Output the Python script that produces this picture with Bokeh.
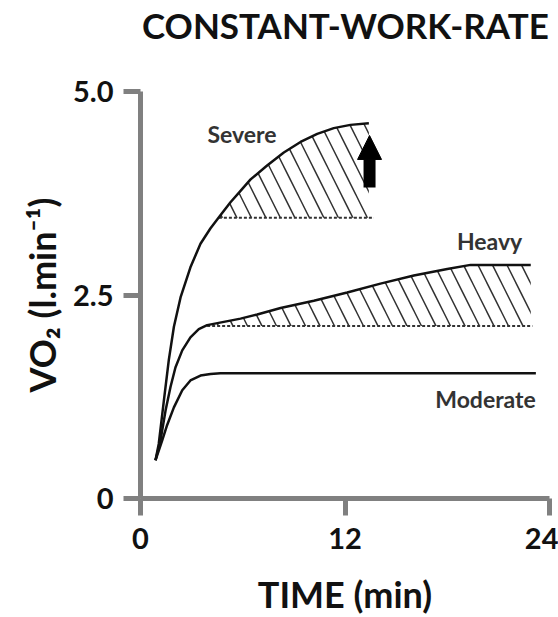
from bokeh.plotting import figure
from bokeh.models import Range1d, FixedTicker, Arrow, NormalHead, Div
from bokeh.layouts import column
from bokeh.core.properties import value
from bokeh.embed import file_html
from bokeh.resources import INLINE

# ---- chart content ----
title_text = "CONSTANT-WORK-RATE"
x_label = "TIME (min)"
y_label = "VO\u2082 (l.min\u207b\u00b9)"
x_ticks = [0, 12, 24]
y_ticks = [0, 2.5, 5.0]
y_tick_labels = ["0", "2.5", "5.0"]

severe_t = [0.88, 1.07, 1.37, 1.66, 1.96, 2.35, 2.93, 3.52, 4.11, 4.69, 5.28,
            5.87, 6.46, 7.43, 8.41, 9.39, 10.37, 11.34, 12.32, 13.4]
severe_vo2 = [0.47, 0.67, 1.20, 1.70, 2.11, 2.47, 2.84, 3.13, 3.32, 3.48, 3.64,
              3.78, 3.92, 4.09, 4.25, 4.38, 4.48, 4.55, 4.59, 4.61]

heavy_t = [0.88, 1.17, 1.47, 1.76, 2.05, 2.45, 2.93, 3.42, 3.91, 4.89, 5.87,
           6.85, 8.22, 10.17, 12.13, 14.08, 16.04, 18.0, 19.37, 22.9]
heavy_vo2 = [0.47, 0.71, 1.08, 1.37, 1.61, 1.82, 1.98, 2.08, 2.13, 2.17, 2.21,
             2.26, 2.34, 2.43, 2.53, 2.64, 2.74, 2.82, 2.87, 2.87]

moderate_t = [0.88, 1.27, 1.56, 1.96, 2.45, 2.93, 3.52, 4.11, 4.69, 23.2]
moderate_vo2 = [0.47, 0.71, 0.90, 1.12, 1.33, 1.45, 1.51, 1.53, 1.54, 1.54]

severe_base = 3.45
severe_base_t = [4.6, 13.7]
heavy_base = 2.12
heavy_base_t = [3.91, 23.0]

arrow_t = 13.44
arrow_vo2 = [3.82, 4.46]

label_text = ["Severe", "Heavy", "Moderate"]
label_t = [3.93, 22.4, 23.2]
label_vo2 = [4.48, 3.16, 1.22]

FONT = "Lato"
AXIS_GREY = "#808080"
INK = "#111111"

# title as a text block above the plot
title = Div(text=title_text, width=416, height=46, margin=(4, 0, 0, 142),
            styles={"font-family": FONT, "font-weight": "bold",
                    "font-size": "35px", "line-height": "42px",
                    "color": INK, "white-space": "nowrap"})

p = figure(frame_width=409, frame_height=407,
           min_border_left=140, min_border_right=9,
           min_border_top=41, min_border_bottom=119,
           x_range=Range1d(0, 24), y_range=Range1d(0, 5.0),
           output_backend="svg", toolbar_location=None,
           background_fill_color="white", border_fill_color="white")
p.outline_line_color = None
p.grid.visible = False

for ax in (p.xaxis[0], p.yaxis[0]):
    ax.axis_line_color = AXIS_GREY
    ax.axis_line_width = 5
    ax.major_tick_line_color = AXIS_GREY
    ax.major_tick_line_width = 5
    ax.major_tick_in = 0
    ax.major_tick_out = 17
    ax.minor_tick_line_color = None
    ax.major_label_text_font = FONT
    ax.major_label_text_font_style = "bold"
    ax.major_label_text_font_size = "29px"
    ax.major_label_text_color = INK
    ax.axis_label_text_font = FONT
    ax.axis_label_text_font_style = "bold"
    ax.axis_label_text_font_size = "36px"
    ax.axis_label_text_color = INK

p.xaxis.ticker = FixedTicker(ticks=x_ticks)
p.yaxis.ticker = FixedTicker(ticks=y_ticks)
p.yaxis.major_label_overrides = {t: s for t, s in zip(y_ticks, y_tick_labels)}
p.xaxis.axis_label = x_label
p.yaxis.axis_label = y_label
p.xaxis.major_label_standoff = 12
p.yaxis.major_label_standoff = 10
p.xaxis.axis_label_standoff = 20
p.yaxis.axis_label_standoff = 6

# hatched areas (above the dashed baselines)
sev_idx = [i for i, t in enumerate(severe_t) if t >= severe_base_t[0]]
p.varea(x=[severe_t[i] for i in sev_idx], y1=severe_base,
        y2=[severe_vo2[i] for i in sev_idx],
        fill_alpha=0, hatch_pattern="\\", hatch_scale=29,
        hatch_weight=1.5, hatch_color="#333333")
hv_idx = [i for i, t in enumerate(heavy_t) if t >= heavy_base_t[0]]
p.varea(x=[heavy_t[i] for i in hv_idx], y1=heavy_base,
        y2=[heavy_vo2[i] for i in hv_idx],
        fill_alpha=0, hatch_pattern="\\", hatch_scale=29,
        hatch_weight=1.5, hatch_color="#333333")

# dashed baselines
p.line(severe_base_t, [severe_base] * 2, line_color="#333333", line_width=2,
       line_dash="3 2")
p.line(heavy_base_t, [heavy_base] * 2, line_color="#333333", line_width=2,
       line_dash="3 2")

# VO2 curves
for t, v in ((severe_t, severe_vo2), (heavy_t, heavy_vo2), (moderate_t, moderate_vo2)):
    p.line(t, v, line_color=INK, line_width=2.5)

# arrow
p.add_layout(Arrow(end=NormalHead(size=24, fill_color="black", line_color="black"),
                   x_start=arrow_t, y_start=arrow_vo2[0],
                   x_end=arrow_t, y_end=arrow_vo2[1],
                   line_color="black", line_width=12))

# intensity labels
p.text(x=label_t[:1], y=label_vo2[:1], text=label_text[:1],
       text_font=value(FONT), text_font_style="bold", text_font_size="23px",
       text_color="#333333", text_align="left", text_baseline="middle")
p.text(x=label_t[1:], y=label_vo2[1:], text=label_text[1:],
       text_font=value(FONT), text_font_style="bold", text_font_size="23px",
       text_color="#333333", text_align="right", text_baseline="middle")

layout = column(title, p, spacing=0)
open("out.html", "w").write(file_html(layout, INLINE))
